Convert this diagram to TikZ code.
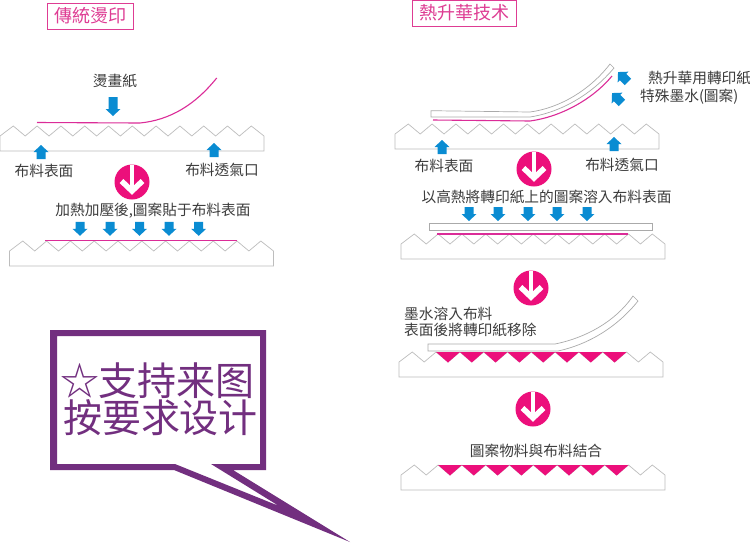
\documentclass[tikz,border=0pt]{standalone}
\usepackage{fontspec}
\newfontfamily\cjk{Noto Sans CJK TC}
\newfontfamily\cjksc{Noto Sans CJK SC}
\definecolor{pinkc}{HTML}{EC0F7B}
\definecolor{framec}{HTML}{DE3C93}
\definecolor{linec}{HTML}{DB2C98}
\definecolor{bluec}{HTML}{0A8CD2}
\definecolor{grayc}{HTML}{BDBDBD}
\definecolor{txtc}{HTML}{3C3C3C}
\definecolor{purplec}{HTML}{722F7F}
\tikzset{
  x=1pt,y=-1pt,
  lab/.style={font=\cjk\fontsize{14.7}{14.7}\selectfont,text=txtc,inner sep=0pt,anchor=center},
  titlebox/.style={draw=framec,line width=0.9pt,font=\cjk\fontsize{18}{18}\selectfont,text=framec,inner sep=0pt,anchor=center},
  fabricline/.style={draw=grayc,line width=0.7pt,line join=miter},
  paperline/.style={draw=grayc!90!black,line width=0.7pt,fill=white},
  inkline/.style={draw=linec,line width=1.1pt},
  inkfill/.style={fill=pinkc},
  bluefill/.style={fill=bluec},
  bubbletxt/.style={font=\cjksc\fontsize{39}{39}\selectfont,text=purplec,inner sep=0pt,anchor=center}
}
\newcommand{\fabricshape}[2]{%
  \draw[fabricline] (#1,#2+10) -- ++(13.3,-10)
    \foreach \i in {1,...,10}{ -- ++(11.9,10) -- ++(11.9,-10)}
    -- ++(12.7,10) -- ++(0,15) -- ++(-264,0) -- cycle;
}
\newcommand{\inkteeth}[2]{%
  \foreach \i in {0,...,7}{\fill[inkfill] ({#1+37.1+23.8*\i},#2) -- ++(23.8,0) -- ++(-11.9,10.5) -- cycle;}
}
% centre x, centre y, half height, rotation
\newcommand{\bluearrow}[4]{%
  \fill[bluefill,shift={(#1,#2)},rotate=#4] (-4.5,-#3) -- (4.5,-#3) -- (4.5,#3-7) -- (7.5,#3-7) -- (0,#3) -- (-7.5,#3-7) -- (-4.5,#3-7) -- cycle;
}
\newcommand{\stepcircle}[2]{%
  \fill[pinkc] (#1,#2) circle (17.5);
  \draw[white,line width=4.5pt] (#1,#2-17.5) -- (#1,#2+8);
  \draw[white,line width=5.5pt,line join=miter] (#1-10.5,#2-1) -- (#1,#2+9) -- (#1+10.5,#2-1);
}
\begin{document}
\begin{tikzpicture}
\useasboundingbox (0,0) rectangle (750,542);
\fill[white] (0,0) rectangle (750,542);

% ---------- titles
\node[titlebox,minimum width=86,minimum height=26] (titleL) at (90,16) {傳統燙印};
\node[titlebox,minimum width=104,minimum height=26] (titleR) at (464,13) {熱升華技术};

% ---------- left column
\node[lab] (paperL) at (115,81) {燙畫紙};
\bluearrow{113}{106.5}{9.5}{0}
\draw[inkline] (37,122.5) -- (140,123) .. controls (170,120) and (195,105) .. (216.7,78);
\fabricshape{0}{126}
\bluearrow{41}{152}{7}{180}
\bluearrow{214}{150}{7}{180}
\node[lab] (surfL) at (44,171) {布料表面};
\node[lab] (ventL) at (222,170) {布料透氣口};
\stepcircle{132}{182}
\node[lab] (heatL) at (153,211) {加熱加壓後,圖案貼于布料表面};
\foreach \ax in {80,110,139.5,169,198.7}{\bluearrow{\ax}{228.8}{7}{0}}
\fabricshape{9.5}{241}
\draw[inkline] (45,240.6) -- (237,240.6);

% ---------- right column, step 1
\draw[paperline] (431,110.7) -- (530,112) .. controls (560,108) and (590,90) .. (610,64)
  -- (614,68) .. controls (592,94) and (562,112) .. (530,117) -- (431,117) -- cycle;
\draw[inkline] (433,120) -- (530,121) .. controls (560,117) and (592,100) .. (612,76);
\bluearrow{623}{77}{7}{-135}
\bluearrow{617}{98}{7}{-135}
\node[lab,anchor=west] (transfer) at (648,78) {熱升華用轉印紙};
\node[lab,anchor=west] (ink) at (640,97) {特殊墨水(圖案)};
\fabricshape{395}{124}
\bluearrow{442}{147}{7}{180}
\bluearrow{614}{144}{7}{180}
\node[lab] (surfR) at (444,166) {布料表面};
\node[lab] (ventR) at (622,165) {布料透氣口};
\stepcircle{534}{169}
\node[lab] (heatR) at (546.5,197) {以高熱將轉印紙上的圖案溶入布料表面};
\foreach \ax in {469,498,528,557,587}{\bluearrow{\ax}{214}{7}{0}}
\draw[paperline] (429,223) rectangle (652,230);
\fabricshape{401}{234}
\draw[inkline] (437,234) -- (628,234);

% ---------- right column, step 2
\stepcircle{531}{288}
\node[lab,anchor=west] (inkA) at (404,314) {墨水溶入布料};
\node[lab,anchor=west] (inkB) at (404,330) {表面後將轉印紙移除};
\fabricshape{399}{352}
\inkteeth{399}{352}
\draw[paperline] (428,344) -- (555,344) .. controls (585,338) and (615,322) .. (633,296)
  -- (638,301) .. controls (618,326) and (590,344) .. (558,351) -- (428,351) -- cycle;

% ---------- right column, step 3
\stepcircle{533}{409}
\node[lab] (bond) at (536,451) {圖案物料與布料結合};
\fabricshape{401}{465}
\inkteeth{401}{465}

% ---------- speech bubble
\fill[purplec,even odd rule]
  (50,330) -- (266,330) -- (266,470) -- (233,470) -- (350,542) -- (174,470) -- (50,470) -- cycle
  (57,336) -- (260,336) -- (260,464) -- (211,464) -- (279,506) -- (175,464) -- (57,464) -- cycle;
\node[bubbletxt,anchor=west] (bubbleA) at (60,381) {☆};
\node[bubbletxt] (bubbleB) at (176.5,381) {支持来图};
\node[bubbletxt] (bubbleC) at (160.5,418) {按要求设计};
\end{tikzpicture}
\end{document}
